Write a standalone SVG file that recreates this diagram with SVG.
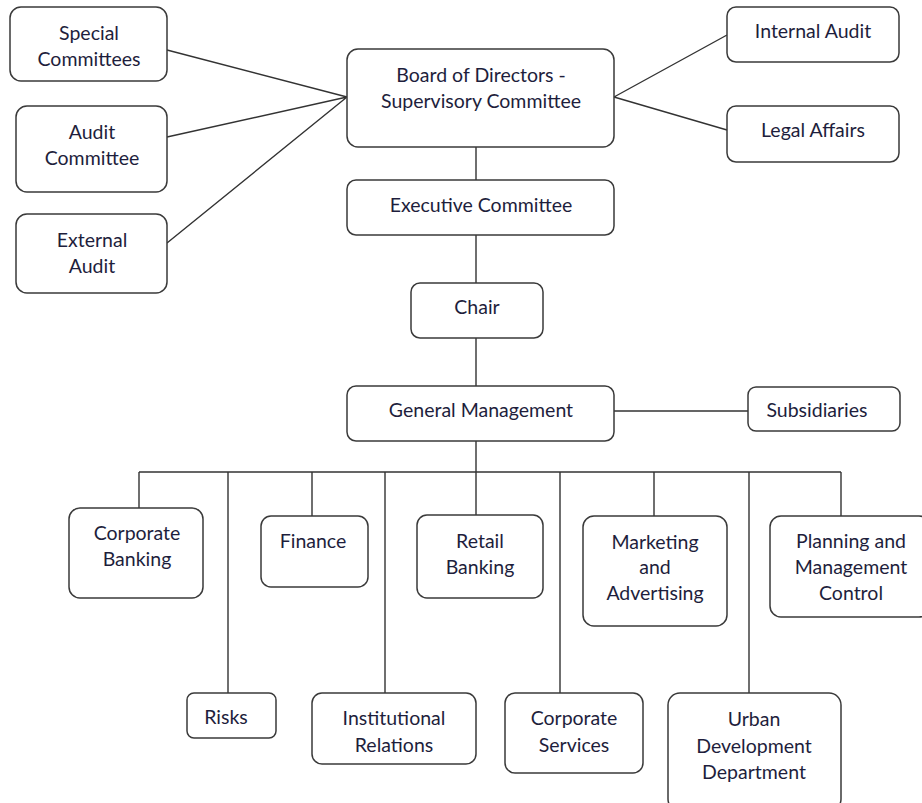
<svg xmlns="http://www.w3.org/2000/svg" width="922" height="803" viewBox="0 0 922 803">
<style>
.b{fill:#fff;stroke:#3a3a3a;stroke-width:1.5}
.t{font-family:Lato,"Open Sans",sans-serif;font-size:19.5px;fill:#1e1e3c;text-anchor:middle}
.c{fill:none;stroke:#333;stroke-width:1.4}
</style>
<rect width="922" height="803" fill="#fff"/>
<g id="connectors">
<path class="c" d="M167,50 L347,97 M167,137 L347,97 M167,243 L347,97 M614,97 L727,35 M614,97 L727,130"/>
<path class="c" d="M476,147 V180 M476,235 V283 M476,338 V386 M614,411 H748 M476,441 V472"/>
<path class="c" d="M139,472 H841 M139,472 V508 M228,472 V693 M312,472 V516 M385,472 V693 M476,472 V515 M560,472 V693 M654,472 V516 M749,472 V693 M841,472 V516"/>
</g>
<g id="special"><rect class="b" x="10" y="7" width="157" height="74" rx="11"/><text class="t" x="89" y="40">Special</text><text class="t" x="89" y="66">Committees</text></g>
<g id="auditcom"><rect class="b" x="16" y="106" width="151" height="86" rx="11"/><text class="t" x="92" y="139">Audit</text><text class="t" x="92" y="165">Committee</text></g>
<g id="external"><rect class="b" x="16" y="214" width="151" height="79" rx="11"/><text class="t" x="92" y="247">External</text><text class="t" x="92" y="273">Audit</text></g>
<g id="board"><rect class="b" x="347" y="49" width="267" height="98" rx="11"/><text class="t" x="481" y="82">Board of Directors -</text><text class="t" x="481" y="108">Supervisory Committee</text></g>
<g id="internal"><rect class="b" x="727" y="7" width="172" height="55" rx="9"/><text class="t" x="813" y="38">Internal Audit</text></g>
<g id="legal"><rect class="b" x="727" y="106" width="172" height="56" rx="9"/><text class="t" x="813" y="137">Legal Affairs</text></g>
<g id="exec"><rect class="b" x="347" y="180" width="267" height="55" rx="9"/><text class="t" x="481" y="212">Executive Committee</text></g>
<g id="chair"><rect class="b" x="411" y="283" width="132" height="55" rx="9"/><text class="t" x="477" y="314">Chair</text></g>
<g id="gm"><rect class="b" x="347" y="386" width="267" height="55" rx="9"/><text class="t" x="481" y="417">General Management</text></g>
<g id="subs"><rect class="b" x="748" y="387" width="152" height="44" rx="8"/><text class="t" x="817" y="417">Subsidiaries</text></g>
<g id="corpbank"><rect class="b" x="69" y="508" width="134" height="90" rx="11"/><text class="t" x="137" y="540">Corporate</text><text class="t" x="137" y="566">Banking</text></g>
<g id="finance"><rect class="b" x="261" y="516" width="107" height="71" rx="10"/><text class="t" x="313" y="548">Finance</text></g>
<g id="retail"><rect class="b" x="417" y="515" width="126" height="83" rx="10"/><text class="t" x="480" y="548">Retail</text><text class="t" x="480" y="574">Banking</text></g>
<g id="marketing"><rect class="b" x="583" y="516" width="144" height="110" rx="11"/><text class="t" x="655" y="549">Marketing</text><text class="t" x="655" y="574">and</text><text class="t" x="655" y="600">Advertising</text></g>
<g id="planning"><rect class="b" x="770" y="516" width="160" height="101" rx="11"/><text class="t" x="851" y="548">Planning and</text><text class="t" x="851" y="574">Management</text><text class="t" x="851" y="600">Control</text></g>
<g id="risks"><rect class="b" x="187" y="693" width="89" height="45" rx="7"/><text class="t" x="226" y="724">Risks</text></g>
<g id="inst"><rect class="b" x="312" y="693" width="164" height="71" rx="10"/><text class="t" x="394" y="725">Institutional</text><text class="t" x="394" y="752">Relations</text></g>
<g id="corpserv"><rect class="b" x="505" y="693" width="138" height="80" rx="10"/><text class="t" x="574" y="725">Corporate</text><text class="t" x="574" y="752">Services</text></g>
<g id="urban"><rect class="b" x="668" y="693" width="173" height="118" rx="12"/><text class="t" x="754" y="726">Urban</text><text class="t" x="754" y="753">Development</text><text class="t" x="754" y="779">Department</text></g>
</svg>
